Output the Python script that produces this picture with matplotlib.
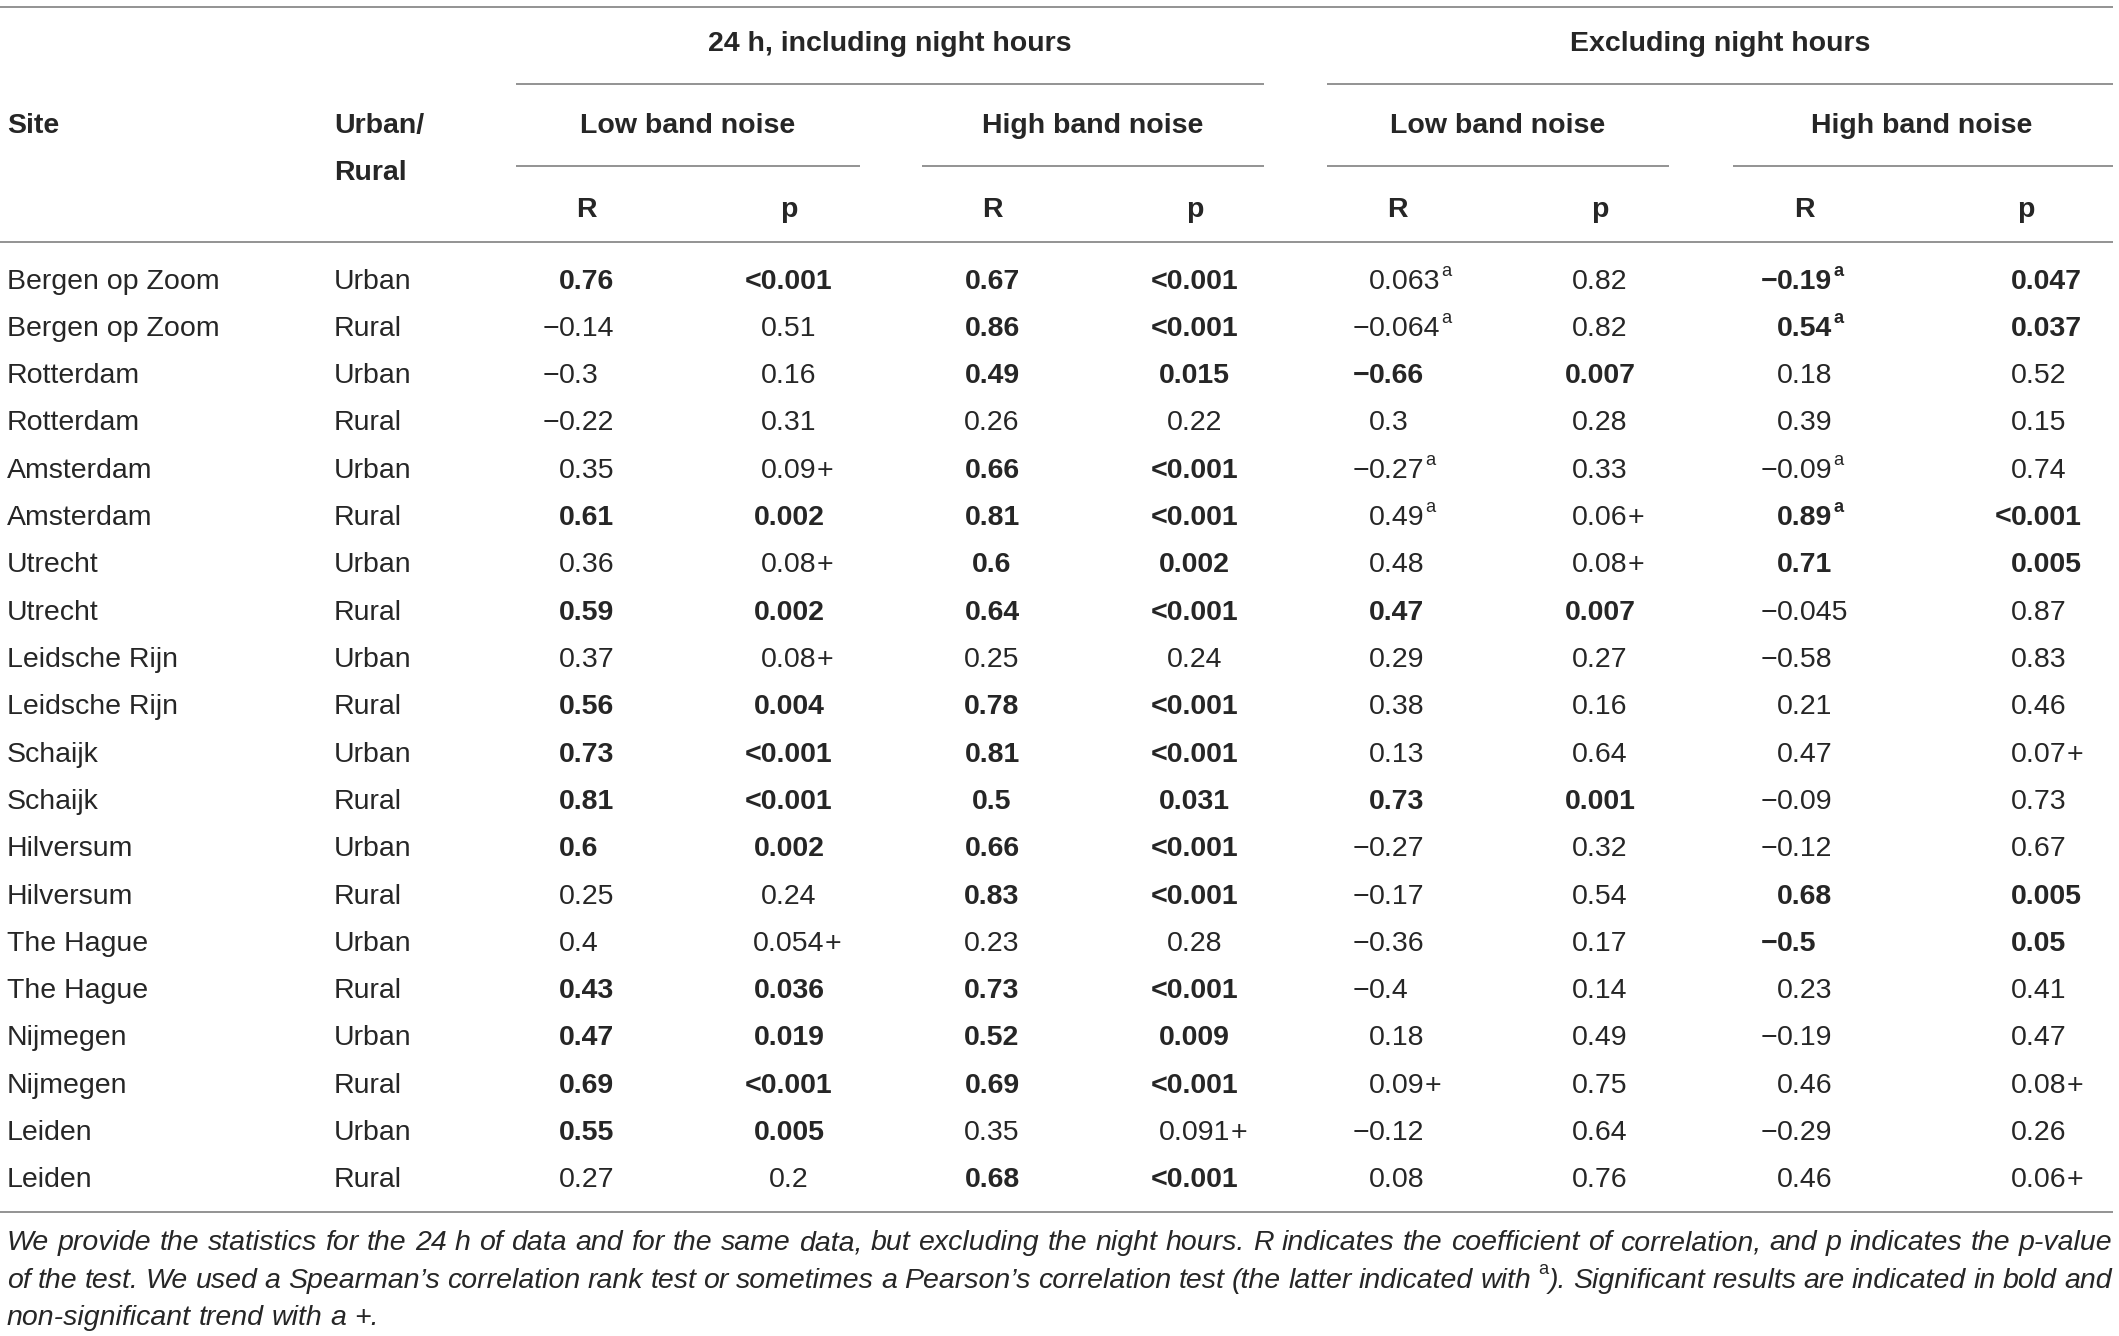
import matplotlib
matplotlib.use('Agg')
import matplotlib.pyplot as plt

plt.rcParams['font.family'] = ['Liberation Sans', 'DejaVu Sans']

## table content
sites = ['Bergen op Zoom', 'Bergen op Zoom', 'Rotterdam', 'Rotterdam', 'Amsterdam',
         'Amsterdam', 'Utrecht', 'Utrecht', 'Leidsche Rijn', 'Leidsche Rijn',
         'Schaijk', 'Schaijk', 'Hilversum', 'Hilversum', 'The Hague', 'The Hague',
         'Nijmegen', 'Nijmegen', 'Leiden', 'Leiden']
area = ['Urban', 'Rural'] * 10

## "a" at the end = Pearson test, "+" = non-significant trend
r24_low = ['0.76', '−0.14', '−0.3', '−0.22', '0.35', '0.61', '0.36', '0.59', '0.37', '0.56',
           '0.73', '0.81', '0.6', '0.25', '0.4', '0.43', '0.47', '0.69', '0.55', '0.27']
p24_low = ['<0.001', '0.51', '0.16', '0.31', '0.09+', '0.002', '0.08+', '0.002', '0.08+', '0.004',
           '<0.001', '<0.001', '0.002', '0.24', '0.054+', '0.036', '0.019', '<0.001', '0.005', '0.2']
r24_high = ['0.67', '0.86', '0.49', '0.26', '0.66', '0.81', '0.6', '0.64', '0.25', '0.78',
            '0.81', '0.5', '0.66', '0.83', '0.23', '0.73', '0.52', '0.69', '0.35', '0.68']
p24_high = ['<0.001', '<0.001', '0.015', '0.22', '<0.001', '<0.001', '0.002', '<0.001', '0.24', '<0.001',
            '<0.001', '0.031', '<0.001', '<0.001', '0.28', '<0.001', '0.009', '<0.001', '0.091+', '<0.001']
rex_low = ['0.063a', '−0.064a', '−0.66', '0.3', '−0.27a', '0.49a', '0.48', '0.47', '0.29', '0.38',
           '0.13', '0.73', '−0.27', '−0.17', '−0.36', '−0.4', '0.18', '0.09+', '−0.12', '0.08']
pex_low = ['0.82', '0.82', '0.007', '0.28', '0.33', '0.06+', '0.08+', '0.007', '0.27', '0.16',
           '0.64', '0.001', '0.32', '0.54', '0.17', '0.14', '0.49', '0.75', '0.64', '0.76']
rex_high = ['−0.19a', '0.54a', '0.18', '0.39', '−0.09a', '0.89a', '0.71', '−0.045', '−0.58', '0.21',
            '0.47', '−0.09', '−0.12', '0.68', '−0.5', '0.23', '−0.19', '0.46', '−0.29', '0.46']
pex_high = ['0.047', '0.037', '0.52', '0.15', '0.74', '<0.001', '0.005', '0.87', '0.83', '0.46',
            '0.07+', '0.73', '0.67', '0.005', '0.05', '0.41', '0.47', '0.08+', '0.26', '0.06+']

## rows printed in bold (significant)
sig24_low = [0, 5, 7, 9, 10, 11, 12, 15, 16, 17, 18]
sig24_high = [0, 1, 2, 4, 5, 6, 7, 9, 10, 11, 12, 13, 15, 16, 17, 19]
sigex_low = [2, 7, 11]
sigex_high = [0, 1, 5, 6, 13, 14]

spanners = ['24 h, including night hours', 'Excluding night hours']
bands = ['Low band noise', 'High band noise', 'Low band noise', 'High band noise']
stats = ['R', 'p'] * 4

footnote = [
    'We provide the statistics for the 24 h of data and for the same data, but excluding the night hours. '
    'R indicates the coefficient of correlation, and p indicates the p-value',
    'of the test. We used a Spearman’s correlation rank test or sometimes a Pearson’s correlation test '
    '(the latter indicated with ^a). Significant results are indicated in bold and',
    'non-significant trend with a +.',
]

## layout (pixels)
W, H = 2119, 1336
FS = 20.5
SUP = 0.64   ## superscript size factor
SUP_UP = 13  ## superscript raise, px
TXT = '#262626'
RULE = '#8a8a8a'

fig = plt.figure(figsize=(W / 100, H / 100), dpi=100)
ax = fig.add_axes([0, 0, 1, 1])
ax.set_xlim(0, W)
ax.set_ylim(H, 0)
ax.axis('off')
rend = fig.canvas.get_renderer()


def right_edge(t):
    bb = t.get_window_extent(renderer=rend)
    return ax.transData.inverted().transform((bb.x1, bb.y0))[0]


def cell(x, y, s, mode, bold):
    w = 'bold' if bold else 'normal'
    kw = dict(fontsize=FS, color=TXT, weight=w, va='baseline')
    sup = s.endswith('a')
    core = s[:-1] if sup else s
    plus = core.endswith('+')
    if plus:
        core = core[:-1]
    if mode == 'dec':
        if core[0] in '−<':
            ax.text(x, y, core[0], ha='right', **kw)
            core = core[1:]
        main = ax.text(x, y, core, ha='left', **kw)
    else:
        main = ax.text(x, y, core, ha='center', **kw)
    end = right_edge(main)
    if plus:
        ax.text(end, y, '+', ha='left', **kw)
    if sup:
        ax.text(end + 1, y - SUP_UP, 'a', fontsize=FS * SUP, color=TXT, weight=w,
                ha='left', va='baseline')


## rules
ax.hlines([6.8, 242, 1212], 0, 2113, color=RULE, lw=1.3)
ax.hlines([83.8, 83.8], [516, 1327], [1264, 2113], color=RULE, lw=1.3)
ax.hlines([166] * 4, [516, 922, 1327, 1733], [860, 1264, 1669, 2113], color=RULE, lw=1.3)

## header
hkw = dict(fontsize=FS, color=TXT, weight='bold', va='baseline')
for name, xc in zip(spanners, [890, 1720]):
    ax.text(xc, 50.7, name, ha='center', **hkw)
for name, xc in zip(bands, [688, 1093, 1498, 1922]):
    ax.text(xc, 133, name, ha='center', **hkw)
ax.text(7, 133, 'Site', ha='left', **hkw)
ax.text(334, 133, 'Urban/', ha='left', **hkw)
ax.text(334, 180, 'Rural', ha='left', **hkw)
col_x = [586.5, 789, 992, 1194.6, 1397, 1600, 1804, 2025.5]
for name, xc in zip(stats, col_x):
    ax.text(xc, 217, name, ha='center', **hkw)

## body
columns = [(r24_low, sig24_low, 'dec', 559), (p24_low, sig24_low, 'center', 789),
           (r24_high, sig24_high, 'center', 992), (p24_high, sig24_high, 'center', 1194.6),
           (rex_low, sigex_low, 'dec', 1369), (pex_low, sigex_low, 'center', 1600),
           (rex_high, sigex_high, 'dec', 1777), (pex_high, sigex_high, 'dec', 2011)]
row_y0, row_step = 288.6, 47.3
for i in range(len(sites)):
    y = row_y0 + i * row_step
    ax.text(7, y, sites[i], fontsize=FS, color=TXT, va='baseline')
    ax.text(334, y, area[i], fontsize=FS, color=TXT, va='baseline')
    for vals, sig, mode, xc in columns:
        cell(xc, y, vals[i], mode, i in sig)


## footnote, justified like the journal layout
def draw_word(x, y, word):
    segs = [('a', True), (word[2:], False)] if word.startswith('^a') else [(word, False)]
    texts = []
    for s, sup in segs:
        if not s:
            continue
        if sup:
            t = ax.text(x, y - SUP_UP, s, fontsize=FS * SUP, color=TXT, ha='left', va='baseline')
        else:
            t = ax.text(x, y, s, fontsize=FS, color=TXT, style='italic', ha='left', va='baseline')
        texts.append(t)
        x = right_edge(t)
    return texts, x


foot_y = [1250, 1287.5, 1325]
x_left, x_right = 7, 2112
for i, line in enumerate(footnote):
    words = line.split(' ')
    items = [draw_word(0, foot_y[i], w) for w in words]
    total = sum(e for _, e in items)
    if i < len(footnote) - 1:
        gap = (x_right - x_left - total) / (len(words) - 1)
    else:
        gap = FS * 100 / 72 * 0.278
    x = x_left
    for texts, end in items:
        for t in texts:
            px, py = t.get_position()
            t.set_position((px + x, py))
        x += end + gap

fig.savefig('out.png', dpi=100, facecolor='white')
